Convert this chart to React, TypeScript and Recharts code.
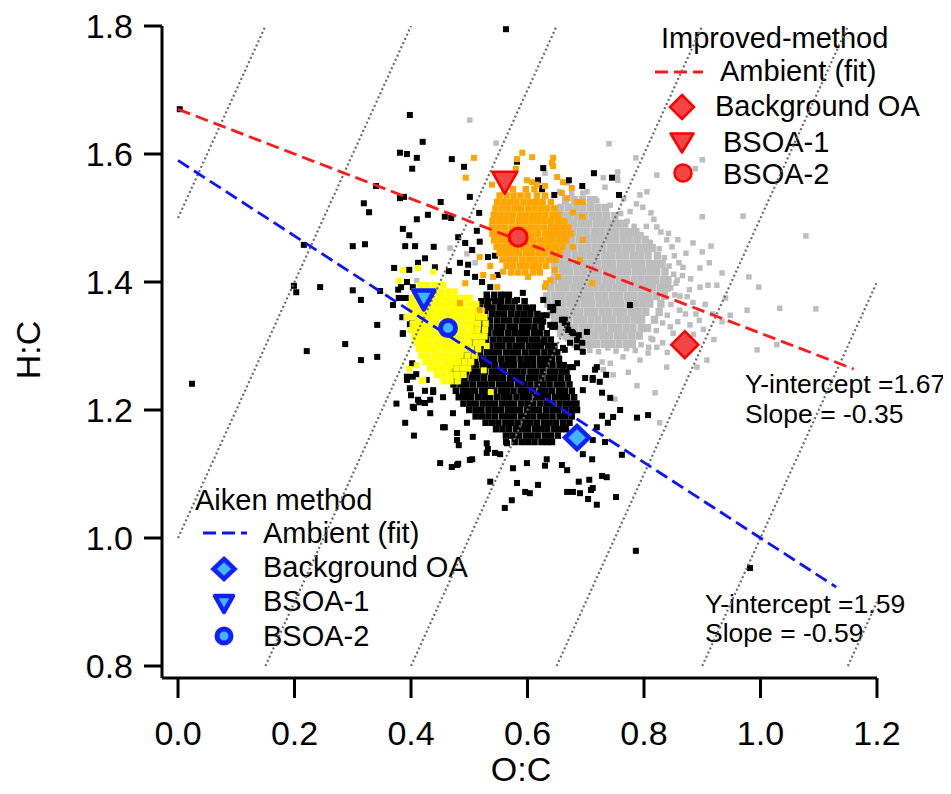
import React from 'react';
import { ScatterChart, Scatter, XAxis, YAxis, Customized } from 'recharts';

const FONT = '"Liberation Sans", Arial, Helvetica, sans-serif';

type Pt = [number, number];
type Row = { y: number; xs: number[] };

// Axes
const xTicks = [0, 0.2, 0.4, 0.6, 0.8, 1.0, 1.2];
const yTicks = [0.8, 1.0, 1.2, 1.4, 1.6, 1.8];
const xDomain: [number, number] = [-0.0275, 1.2];
const yDomain: [number, number] = [0.78125, 1.8];
const xBox: [number, number] = [0, 1.2];
const yBox: [number, number] = [0.8, 1.8];

// Carbon oxidation-state isolines: OSc = 2*O:C - H:C
const oxidationStates = [-1.5, -1.0, -0.5, 0, 0.5, 1.0, 1.5];

// Linear fits of the ambient data
const improvedFit = { intercept: 1.67, slope: -0.35, xEnd: 1.16 };
const aikenFit = { intercept: 1.59, slope: -0.59, xEnd: 1.13 };

// Factor end-members
const improvedBackground: Pt[] = [[0.87, 1.302]];
const improvedBsoa1: Pt[] = [[0.561, 1.555]];
const improvedBsoa2: Pt[] = [[0.584, 1.47]];
const aikenBackground: Pt[] = [[0.685, 1.157]];
const aikenBsoa1: Pt[] = [[0.422, 1.372]];
const aikenBsoa2: Pt[] = [[0.4635, 1.328]];

// Ambient points, Aiken method (black): dense core rows + scattered points
const blackCore: Row[] = [
  { y: 1.38, xs: [0.530, 0.543, 0.555, 0.568] },
  { y: 1.37, xs: [0.521, 0.532, 0.544, 0.555, 0.567, 0.578, 0.595] },
  { y: 1.36, xs: [0.518, 0.530, 0.540, 0.552, 0.563, 0.574, 0.586, 0.597, 0.609] },
  { y: 1.35, xs: [0.516, 0.527, 0.539, 0.550, 0.560, 0.572, 0.583, 0.594, 0.605, 0.617] },
  { y: 1.34, xs: [0.515, 0.526, 0.536, 0.548, 0.559, 0.569, 0.581, 0.592, 0.602, 0.614, 0.623] },
  { y: 1.33, xs: [0.513, 0.525, 0.535, 0.547, 0.557, 0.569, 0.579, 0.591, 0.601, 0.612, 0.624] },
  { y: 1.32, xs: [0.511, 0.523, 0.533, 0.545, 0.555, 0.567, 0.578, 0.589, 0.599, 0.611, 0.621, 0.633] },
  { y: 1.31, xs: [0.507, 0.519, 0.529, 0.541, 0.552, 0.563, 0.573, 0.585, 0.596, 0.607, 0.617, 0.629, 0.640] },
  { y: 1.30, xs: [0.502, 0.514, 0.524, 0.536, 0.547, 0.557, 0.569, 0.580, 0.590, 0.602, 0.613, 0.623, 0.635, 0.646] },
  { y: 1.29, xs: [0.496, 0.508, 0.518, 0.530, 0.541, 0.551, 0.563, 0.574, 0.584, 0.596, 0.607, 0.617, 0.629, 0.640, 0.651] },
  { y: 1.28, xs: [0.488, 0.500, 0.510, 0.522, 0.533, 0.543, 0.555, 0.566, 0.576, 0.588, 0.599, 0.609, 0.621, 0.632, 0.642, 0.654] },
  { y: 1.27, xs: [0.478, 0.489, 0.500, 0.511, 0.523, 0.533, 0.544, 0.556, 0.566, 0.577, 0.589, 0.599, 0.610, 0.622, 0.632, 0.643, 0.655, 0.662] },
  { y: 1.26, xs: [0.472, 0.483, 0.494, 0.506, 0.516, 0.527, 0.539, 0.549, 0.560, 0.572, 0.582, 0.593, 0.605, 0.615, 0.626, 0.638, 0.648, 0.659, 0.667] },
  { y: 1.25, xs: [0.470, 0.481, 0.492, 0.504, 0.514, 0.525, 0.537, 0.547, 0.558, 0.570, 0.580, 0.591, 0.603, 0.613, 0.624, 0.636, 0.646, 0.657, 0.669] },
  { y: 1.24, xs: [0.473, 0.485, 0.495, 0.506, 0.518, 0.528, 0.539, 0.551, 0.561, 0.572, 0.584, 0.594, 0.605, 0.617, 0.627, 0.638, 0.650, 0.660, 0.672] },
  { y: 1.23, xs: [0.477, 0.489, 0.499, 0.510, 0.522, 0.532, 0.543, 0.555, 0.565, 0.576, 0.588, 0.598, 0.609, 0.621, 0.631, 0.642, 0.654, 0.664, 0.676] },
  { y: 1.22, xs: [0.482, 0.493, 0.503, 0.515, 0.526, 0.536, 0.548, 0.559, 0.569, 0.581, 0.592, 0.602, 0.614, 0.625, 0.635, 0.647, 0.658, 0.668, 0.680] },
  { y: 1.21, xs: [0.490, 0.501, 0.511, 0.523, 0.534, 0.544, 0.556, 0.567, 0.577, 0.589, 0.600, 0.610, 0.622, 0.633, 0.643, 0.655, 0.666, 0.676, 0.684] },
  { y: 1.20, xs: [0.500, 0.511, 0.521, 0.533, 0.544, 0.554, 0.566, 0.577, 0.587, 0.599, 0.610, 0.620, 0.632, 0.643, 0.653, 0.665, 0.676, 0.685] },
  { y: 1.19, xs: [0.511, 0.522, 0.533, 0.544, 0.556, 0.566, 0.577, 0.589, 0.599, 0.610, 0.622, 0.632, 0.643, 0.655, 0.665, 0.676] },
  { y: 1.18, xs: [0.528, 0.539, 0.550, 0.562, 0.572, 0.583, 0.595, 0.605, 0.616, 0.628, 0.638, 0.649, 0.661, 0.672] },
  { y: 1.17, xs: [0.546, 0.557, 0.568, 0.580, 0.590, 0.601, 0.613, 0.623, 0.634, 0.646, 0.656, 0.666] },
  { y: 1.16, xs: [0.563, 0.574, 0.585, 0.597, 0.607, 0.618, 0.630, 0.640, 0.652] },
  { y: 1.15, xs: [0.578, 0.590, 0.601, 0.612, 0.624, 0.634, 0.642] },
];

const blackScatter: Pt[] = [
  [0.003, 1.670], [0.398, 1.661], [0.420, 1.619], [0.381, 1.602], [0.393, 1.600], [0.410, 1.594], [0.402, 1.577],
  [0.340, 1.550], [0.381, 1.531], [0.388, 1.533], [0.319, 1.523], [0.328, 1.509], [0.410, 1.498], [0.429, 1.505],
  [0.386, 1.483], [0.397, 1.473], [0.390, 1.456], [0.407, 1.456], [0.300, 1.456], [0.321, 1.459], [0.216, 1.458],
  [0.424, 1.437], [0.412, 1.430], [0.371, 1.422], [0.397, 1.419], [0.393, 1.400], [0.199, 1.394], [0.203, 1.384],
  [0.244, 1.392], [0.300, 1.387], [0.314, 1.372], [0.347, 1.386], [0.383, 1.392], [0.379, 1.375], [0.391, 1.375],
  [0.369, 1.364], [0.342, 1.333], [0.386, 1.319], [0.398, 1.334], [0.287, 1.303], [0.221, 1.292], [0.314, 1.278],
  [0.342, 1.283], [0.024, 1.241], [0.393, 1.252], [0.409, 1.256], [0.398, 1.234], [0.400, 1.223], [0.414, 1.212],
  [0.405, 1.203], [0.424, 1.230],
  [0.563, 1.795], [0.470, 1.592], [0.491, 1.580], [0.714, 1.570], [0.671, 1.559], [0.625, 1.545],
  [0.451, 1.525], [0.501, 1.533], [0.517, 1.508], [0.458, 1.502], [0.469, 1.500], [0.513, 1.480], [0.481, 1.470],
  [0.493, 1.461], [0.518, 1.463], [0.439, 1.455], [0.505, 1.450], [0.484, 1.430], [0.498, 1.427], [0.532, 1.439],
  [0.544, 1.441], [0.441, 1.423], [0.465, 1.417], [0.496, 1.414], [0.510, 1.408], [0.549, 1.411], [0.522, 1.400],
  [0.536, 1.392], [0.560, 1.380], [0.542, 1.375], [0.532, 1.367], [0.553, 1.361], [0.582, 1.372], [0.592, 1.383],
  [0.603, 1.359], [0.627, 1.372], [0.644, 1.361], [0.659, 1.341], [0.670, 1.325], [0.688, 1.317], [0.627, 1.338],
  [0.642, 1.330], [0.694, 1.550], [0.646, 1.536], [0.745, 1.563], [0.757, 1.536], [0.618, 1.559], [0.627, 1.578],
  [0.582, 1.588], [0.685, 1.273], [0.712, 1.247], [0.695, 1.231], [0.673, 1.267],
  [0.458, 1.173], [0.479, 1.153], [0.482, 1.145], [0.450, 1.117], [0.470, 1.111], [0.481, 1.116], [0.505, 1.123],
  [0.532, 1.139], [0.536, 1.088], [0.553, 1.131], [0.582, 1.086], [0.575, 1.109], [0.599, 1.117], [0.618, 1.083],
  [0.596, 1.072], [0.604, 1.070], [0.573, 1.059], [0.561, 1.047], [0.630, 1.113], [0.633, 1.123], [0.659, 1.114],
  [0.668, 1.106], [0.668, 1.072], [0.678, 1.072], [0.690, 1.070], [0.704, 1.061], [0.709, 1.075], [0.712, 1.078],
  [0.688, 1.088], [0.706, 1.091], [0.728, 1.097], [0.736, 1.095], [0.719, 1.052], [0.752, 1.064], [0.711, 1.123],
  [0.695, 1.131], [0.733, 1.150], [0.762, 1.130], [0.712, 1.153], [0.719, 1.173], [0.738, 1.180], [0.747, 1.189],
  [0.728, 1.191], [0.759, 1.200], [0.788, 1.188], [0.807, 1.192], [0.742, 1.219], [0.728, 1.227], [0.724, 1.244],
  [0.712, 1.250], [0.716, 1.263], [0.735, 1.255], [0.699, 1.250], [0.695, 1.291], [0.685, 1.309], [0.719, 1.267],
  [0.678, 1.267], [0.676, 1.322], [0.668, 1.333], [0.685, 1.298], [0.661, 1.297], [0.664, 1.341], [0.639, 1.333],
  [0.647, 1.330], [0.644, 1.356], [0.633, 1.348], [0.609, 1.359], [0.613, 1.322], [0.627, 1.306], [0.616, 1.320],
  [0.427, 1.247], [0.438, 1.231], [0.433, 1.216], [0.455, 1.220], [0.472, 1.195], [0.496, 1.180], [0.506, 1.158],
  [0.530, 1.148], [0.544, 1.133], [0.563, 1.150],
  [0.386, 1.320], [0.402, 1.273], [0.403, 1.252], [0.393, 1.247], [0.412, 1.216], [0.403, 1.205], [0.424, 1.211],
  [0.433, 1.195], [0.438, 1.228], [0.455, 1.173], [0.479, 1.164], [0.479, 1.114], [0.501, 1.122], [0.530, 1.133],
  [0.565, 1.148], [0.385, 1.345], [0.402, 1.336], [0.378, 1.388], [0.403, 1.392], [0.386, 1.375],
  [0.625, 1.547], [0.652, 1.367], [0.639, 1.361], [0.627, 1.348], [0.647, 1.333], [0.664, 1.336], [0.678, 1.320],
  [0.694, 1.305], [0.673, 1.305], [0.664, 1.294], [0.776, 1.364], [0.702, 1.322],
  [0.786, 0.980], [0.982, 0.953], [0.390, 1.180], [0.405, 1.160], [0.375, 1.210],
];

// Ambient points, improved method (grey)
const greyCore: Row[] = [
  { y: 1.528, xs: [0.665, 0.680, 0.694, 0.708] },
  { y: 1.516, xs: [0.657, 0.670, 0.683, 0.695, 0.708, 0.721, 0.734] },
  { y: 1.503, xs: [0.648, 0.661, 0.673, 0.686, 0.698, 0.711, 0.723, 0.736, 0.750] },
  { y: 1.491, xs: [0.643, 0.655, 0.668, 0.680, 0.693, 0.705, 0.718, 0.730, 0.743, 0.755, 0.767] },
  { y: 1.478, xs: [0.640, 0.652, 0.665, 0.677, 0.690, 0.702, 0.715, 0.727, 0.740, 0.752, 0.765, 0.777, 0.786] },
  { y: 1.466, xs: [0.639, 0.651, 0.664, 0.676, 0.689, 0.701, 0.714, 0.726, 0.739, 0.751, 0.764, 0.776, 0.789, 0.802] },
  { y: 1.453, xs: [0.642, 0.654, 0.667, 0.679, 0.692, 0.704, 0.717, 0.729, 0.742, 0.754, 0.767, 0.779, 0.792, 0.804, 0.814] },
  { y: 1.441, xs: [0.644, 0.657, 0.669, 0.682, 0.694, 0.707, 0.719, 0.732, 0.744, 0.757, 0.769, 0.782, 0.794, 0.807, 0.823] },
  { y: 1.428, xs: [0.646, 0.659, 0.671, 0.684, 0.696, 0.709, 0.721, 0.734, 0.746, 0.759, 0.771, 0.784, 0.796, 0.809, 0.821, 0.831] },
  { y: 1.416, xs: [0.647, 0.660, 0.672, 0.685, 0.697, 0.710, 0.722, 0.735, 0.747, 0.760, 0.772, 0.785, 0.797, 0.810, 0.822, 0.836] },
  { y: 1.403, xs: [0.645, 0.658, 0.670, 0.683, 0.695, 0.708, 0.720, 0.733, 0.745, 0.758, 0.770, 0.783, 0.795, 0.808, 0.820, 0.833, 0.841] },
  { y: 1.391, xs: [0.640, 0.653, 0.665, 0.678, 0.690, 0.703, 0.715, 0.728, 0.740, 0.753, 0.765, 0.778, 0.790, 0.803, 0.815, 0.828, 0.840] },
  { y: 1.378, xs: [0.633, 0.646, 0.658, 0.671, 0.683, 0.696, 0.708, 0.721, 0.733, 0.746, 0.758, 0.771, 0.783, 0.796, 0.808, 0.821, 0.835] },
  { y: 1.366, xs: [0.635, 0.648, 0.660, 0.673, 0.685, 0.698, 0.710, 0.723, 0.735, 0.748, 0.760, 0.773, 0.785, 0.798, 0.810, 0.829] },
  { y: 1.353, xs: [0.640, 0.653, 0.665, 0.678, 0.690, 0.703, 0.715, 0.728, 0.740, 0.753, 0.765, 0.778, 0.790, 0.803, 0.826] },
  { y: 1.341, xs: [0.646, 0.659, 0.671, 0.684, 0.696, 0.709, 0.721, 0.734, 0.746, 0.759, 0.771, 0.784, 0.796, 0.818] },
  { y: 1.328, xs: [0.656, 0.669, 0.681, 0.694, 0.706, 0.719, 0.731, 0.744, 0.756, 0.769, 0.781, 0.795, 0.806] },
  { y: 1.316, xs: [0.666, 0.679, 0.691, 0.704, 0.716, 0.729, 0.741, 0.754, 0.766, 0.779, 0.792] },
  { y: 1.303, xs: [0.682, 0.694, 0.707, 0.719, 0.732, 0.744, 0.757, 0.770, 0.780] },
];

const greyScatter: Pt[] = [
  [0.740, 1.616], [0.755, 1.572], [0.822, 1.567], [0.805, 1.541], [0.900, 1.591], [0.900, 1.502], [0.970, 1.503],
  [1.078, 1.472], [0.915, 1.456], [0.934, 1.414], [0.980, 1.408], [0.997, 1.392], [1.033, 1.359], [1.095, 1.358],
  [0.977, 1.356], [0.948, 1.348], [0.934, 1.338], [0.994, 1.294], [1.028, 1.302], [0.908, 1.278], [0.891, 1.267],
  [0.839, 1.267], [0.807, 1.289], [0.793, 1.278], [0.764, 1.283], [0.742, 1.273], [0.730, 1.263], [0.896, 1.392],
  [0.874, 1.377], [0.857, 1.403], [0.867, 1.423], [0.896, 1.422], [0.884, 1.461], [0.858, 1.466], [0.839, 1.466],
  [0.822, 1.486], [0.817, 1.498], [0.798, 1.517], [0.793, 1.536], [0.755, 1.559], [0.719, 1.527], [0.733, 1.548],
  [0.786, 1.594], [0.888, 1.577], [0.501, 1.653], [0.546, 1.617], [0.730, 1.563], [0.754, 1.563], [0.630, 1.570],
  [0.668, 1.555], [0.695, 1.539], [0.728, 1.275], [0.747, 1.255], [0.773, 1.259], [0.788, 1.238], [0.750, 1.217],
  [0.819, 1.227], [0.827, 1.180], [0.410, 1.402], [0.467, 1.453], [0.496, 1.444], [0.510, 1.430],
  [0.852, 1.441], [0.846, 1.391], [0.861, 1.356], [0.879, 1.333], [0.850, 1.320], [0.832, 1.305], [0.870, 1.296],
  [0.815, 1.310], [0.880, 1.405], [0.905, 1.365], [0.920, 1.310],
  [0.655, 1.541], [0.676, 1.538], [0.702, 1.541], [0.716, 1.530], [0.742, 1.520], [0.760, 1.507], [0.771, 1.495],
  [0.783, 1.487], [0.795, 1.474], [0.811, 1.462], [0.826, 1.452], [0.835, 1.438], [0.843, 1.425], [0.851, 1.412],
  [0.855, 1.398], [0.853, 1.380], [0.846, 1.365], [0.840, 1.348], [0.832, 1.336], [0.821, 1.324], [0.812, 1.312],
  [0.795, 1.302], [0.785, 1.293], [0.770, 1.296], [0.752, 1.292], [0.738, 1.297], [0.722, 1.291], [0.707, 1.293],
  [0.693, 1.296], [0.668, 1.311], [0.655, 1.318], [0.645, 1.329], [0.900, 1.447], [0.912, 1.430], [0.925, 1.395],
  [0.889, 1.350], [0.940, 1.375],
  [0.848, 1.455], [0.860, 1.430], [0.872, 1.445], [0.866, 1.410], [0.878, 1.388], [0.862, 1.378], [0.884, 1.368],
  [0.871, 1.350], [0.895, 1.340], [0.858, 1.338], [0.845, 1.330], [0.885, 1.318], [0.902, 1.326], [0.842, 1.476],
  [0.829, 1.478], [0.812, 1.508], [0.804, 1.487], [0.776, 1.510], [0.765, 1.530], [0.787, 1.522], [0.910, 1.395],
  [0.918, 1.350], [0.856, 1.305], [0.840, 1.290], [0.822, 1.298], [0.808, 1.298],
];

// BSOA-1 periods (yellow: Aiken, orange: improved)
const yellowCore: Row[] = [
  { y: 1.395, xs: [0.416, 0.428, 0.441, 0.455] },
  { y: 1.385, xs: [0.407, 0.419, 0.430, 0.441, 0.452, 0.464, 0.475] },
  { y: 1.375, xs: [0.402, 0.413, 0.424, 0.436, 0.447, 0.458, 0.469, 0.480, 0.492, 0.501] },
  { y: 1.365, xs: [0.399, 0.410, 0.421, 0.432, 0.444, 0.455, 0.466, 0.477, 0.488, 0.500, 0.512] },
  { y: 1.355, xs: [0.401, 0.412, 0.423, 0.435, 0.446, 0.457, 0.468, 0.479, 0.491, 0.502, 0.513, 0.521] },
  { y: 1.345, xs: [0.405, 0.416, 0.427, 0.438, 0.449, 0.461, 0.472, 0.483, 0.494, 0.505, 0.516, 0.526] },
  { y: 1.335, xs: [0.403, 0.414, 0.425, 0.437, 0.448, 0.459, 0.470, 0.481, 0.493, 0.504, 0.515, 0.528] },
  { y: 1.325, xs: [0.402, 0.413, 0.424, 0.435, 0.447, 0.458, 0.469, 0.480, 0.491, 0.503, 0.514, 0.527] },
  { y: 1.315, xs: [0.406, 0.417, 0.428, 0.439, 0.451, 0.462, 0.473, 0.484, 0.495, 0.506, 0.517, 0.526] },
  { y: 1.305, xs: [0.410, 0.421, 0.432, 0.444, 0.455, 0.466, 0.477, 0.488, 0.499, 0.511, 0.522] },
  { y: 1.295, xs: [0.414, 0.425, 0.436, 0.447, 0.459, 0.470, 0.481, 0.492, 0.503, 0.515] },
  { y: 1.285, xs: [0.418, 0.429, 0.441, 0.452, 0.463, 0.474, 0.485, 0.497, 0.509] },
  { y: 1.275, xs: [0.425, 0.436, 0.447, 0.459, 0.470, 0.481, 0.492, 0.503] },
  { y: 1.265, xs: [0.433, 0.444, 0.455, 0.466, 0.478, 0.489, 0.498] },
  { y: 1.255, xs: [0.445, 0.456, 0.468, 0.479, 0.490] },
  { y: 1.245, xs: [0.456, 0.468, 0.480] },
];

const yellowScatter: Pt[] = [
  [0.386, 1.419], [0.379, 1.402], [0.400, 1.325], [0.397, 1.264], [0.419, 1.245], [0.537, 1.228], [0.412, 1.422],
  [0.438, 1.416], [0.421, 1.247], [0.410, 1.270], [0.415, 1.314], [0.392, 1.345], [0.530, 1.300], [0.525, 1.262],
];

const orangeCore: Row[] = [
  { y: 1.545, xs: [0.560, 0.575, 0.597, 0.612] },
  { y: 1.535, xs: [0.552, 0.564, 0.576, 0.588, 0.600, 0.616, 0.630] },
  { y: 1.525, xs: [0.548, 0.559, 0.570, 0.581, 0.593, 0.604, 0.615, 0.626, 0.640] },
  { y: 1.515, xs: [0.545, 0.556, 0.567, 0.578, 0.589, 0.601, 0.612, 0.623, 0.634, 0.646] },
  { y: 1.505, xs: [0.542, 0.553, 0.564, 0.575, 0.587, 0.598, 0.609, 0.620, 0.631, 0.643, 0.653] },
  { y: 1.495, xs: [0.540, 0.551, 0.562, 0.573, 0.585, 0.596, 0.607, 0.618, 0.629, 0.640, 0.652, 0.663] },
  { y: 1.485, xs: [0.539, 0.550, 0.561, 0.573, 0.584, 0.595, 0.606, 0.617, 0.628, 0.640, 0.651, 0.662, 0.670] },
  { y: 1.475, xs: [0.540, 0.551, 0.562, 0.574, 0.585, 0.596, 0.607, 0.618, 0.630, 0.641, 0.652, 0.663, 0.674] },
  { y: 1.465, xs: [0.543, 0.554, 0.565, 0.576, 0.588, 0.599, 0.610, 0.621, 0.632, 0.643, 0.655, 0.666] },
  { y: 1.455, xs: [0.547, 0.558, 0.569, 0.580, 0.592, 0.603, 0.614, 0.625, 0.636, 0.648, 0.660] },
  { y: 1.445, xs: [0.552, 0.563, 0.574, 0.585, 0.597, 0.608, 0.619, 0.630, 0.642, 0.655] },
  { y: 1.435, xs: [0.557, 0.568, 0.579, 0.591, 0.602, 0.613, 0.624, 0.636, 0.648] },
  { y: 1.425, xs: [0.564, 0.575, 0.587, 0.598, 0.609, 0.620, 0.632] },
  { y: 1.415, xs: [0.572, 0.584, 0.596, 0.609, 0.621] },
];

const orangeScatter: Pt[] = [
  [0.508, 1.594], [0.582, 1.592], [0.591, 1.602], [0.608, 1.595], [0.644, 1.594], [0.642, 1.586], [0.644, 1.581],
  [0.580, 1.577], [0.494, 1.563], [0.539, 1.552], [0.599, 1.559], [0.608, 1.556], [0.616, 1.552], [0.651, 1.564],
  [0.661, 1.556], [0.676, 1.547], [0.630, 1.550], [0.659, 1.539], [0.668, 1.531], [0.685, 1.525], [0.695, 1.525],
  [0.678, 1.509], [0.694, 1.502], [0.695, 1.466], [0.678, 1.455], [0.690, 1.434], [0.647, 1.419], [0.652, 1.408],
  [0.639, 1.403], [0.711, 1.398], [0.630, 1.392], [0.518, 1.439], [0.536, 1.425], [0.524, 1.411], [0.541, 1.408],
  [0.558, 1.416], [0.548, 1.392], [0.601, 1.408], [0.632, 1.398], [0.616, 1.422], [0.484, 1.367], [0.518, 1.356],
  [0.493, 1.398],
];

// ---- helpers ----
type XY = { x: number; y: number };
const fromPairs = (pts: Pt[]): XY[] => pts.map(([x, y]) => ({ x, y }));
const fromRows = (rows: Row[]): XY[] => rows.flatMap((r) => r.xs.map((x) => ({ x, y: r.y })));

const isoline = (os: number): XY[] => {
  const x0 = Math.max(xBox[0], (yBox[0] + os) / 2);
  const x1 = Math.min(xBox[1], (yBox[1] + os) / 2);
  return [
    { x: x0, y: 2 * x0 - os },
    { x: x1, y: 2 * x1 - os },
  ];
};

const fitLine = (f: { intercept: number; slope: number; xEnd: number }): XY[] => [
  { x: 0, y: f.intercept },
  { x: f.xEnd, y: f.intercept + f.slope * f.xEnd },
];

const squareShape = (fill: string, w: number, h: number = w) => (p: any) =>
  p.cx == null ? <g /> : <rect x={p.cx - w / 2} y={p.cy - h / 2} width={w} height={h} fill={fill} />;

const noShape = () => <g />;

type MStyle = { fill: string; stroke: string; sw: number; w: number; h?: number };
type Kind = 'diamond' | 'triangle' | 'circle';

function drawMarker(kind: Kind, cx: number, cy: number, st: MStyle) {
  const hw = st.w / 2;
  const hh = (st.h ?? st.w) / 2;
  const common = { fill: st.fill, stroke: st.stroke, strokeWidth: st.sw };
  if (kind === 'diamond') {
    return <polygon points={`${cx},${cy - hh} ${cx + hw},${cy} ${cx},${cy + hh} ${cx - hw},${cy}`} {...common} />;
  }
  if (kind === 'triangle') {
    return <polygon points={`${cx - hw},${cy - hh} ${cx + hw},${cy - hh} ${cx},${cy + hh}`} {...common} strokeLinejoin="round" />;
  }
  return <circle cx={cx} cy={cy} r={hw} {...common} />;
}

const markerShape = (kind: Kind, st: MStyle) => (p: any) =>
  p.cx == null ? <g /> : drawMarker(kind, p.cx, p.cy, st);

const RED = { fill: '#f24646', stroke: '#ff0000' };
const BLUE = { fill: '#40b6f8', stroke: '#1020ff' };

const chartStyles = {
  redDiamond: { ...RED, sw: 2.5, w: 27, h: 27 },
  redTriangle: { ...RED, sw: 2.5, w: 25, h: 22 },
  redCircle: { ...RED, sw: 3, w: 18 },
  blueDiamond: { ...BLUE, sw: 4.5, w: 24, h: 23 },
  blueTriangle: { ...BLUE, sw: 4.5, w: 21, h: 19 },
  blueCircle: { ...BLUE, sw: 5, w: 15 },
};

const legendStyles = {
  redDiamond: { ...RED, sw: 2.5, w: 24, h: 24 },
  redTriangle: { ...RED, sw: 2.5, w: 23, h: 19 },
  redCircle: { ...RED, sw: 2.5, w: 17 },
  blueDiamond: { ...BLUE, sw: 4.5, w: 21, h: 20 },
  blueTriangle: { ...BLUE, sw: 4.5, w: 18, h: 16 },
  blueCircle: { ...BLUE, sw: 5, w: 14 },
};

const RED_LINE = '#ff1a1a';
const BLUE_LINE = '#0a14ff';
const FIT_DASH = '13 6';
const FIT_WIDTH = 2.8;

function Annotations() {
  const legendFont = 29;
  const noteFont = 26.5;
  return (
    <g fontFamily={FONT} fill="#000">
      {/* axis titles */}
      <text x={20} y={342} fontSize={34} textAnchor="middle" dominantBaseline="central" transform="rotate(-90 20 342)">
        H:C
      </text>
      <text x={513} y={773} fontSize={34} textAnchor="middle">
        O:C
      </text>

      {/* improved-method legend */}
      <text x={653} y={40} fontSize={legendFont}>Improved-method</text>
      <line x1={647} y1={64} x2={695} y2={64} stroke={RED_LINE} strokeWidth={FIT_WIDTH} strokeDasharray={FIT_DASH} />
      <text x={712} y={73} fontSize={legendFont}>Ambient (fit)</text>
      {drawMarker('diamond', 674, 99, legendStyles.redDiamond)}
      <text x={707} y={108} fontSize={legendFont}>Background OA</text>
      {drawMarker('triangle', 674, 135, legendStyles.redTriangle)}
      <text x={715} y={144} fontSize={legendFont}>BSOA-1</text>
      {drawMarker('circle', 675, 165, legendStyles.redCircle)}
      <text x={715} y={176} fontSize={legendFont}>BSOA-2</text>

      {/* Aiken legend */}
      <text x={187} y={502} fontSize={legendFont}>Aiken method</text>
      <line x1={195} y1={525} x2={239} y2={525} stroke={BLUE_LINE} strokeWidth={FIT_WIDTH} strokeDasharray={FIT_DASH} />
      <text x={255} y={535} fontSize={legendFont}>Ambient (fit)</text>
      {drawMarker('diamond', 216, 561, legendStyles.blueDiamond)}
      <text x={255} y={569} fontSize={legendFont}>Background OA</text>
      {drawMarker('triangle', 216, 596, legendStyles.blueTriangle)}
      <text x={255} y={603} fontSize={legendFont}>BSOA-1</text>
      {drawMarker('circle', 216, 628, legendStyles.blueCircle)}
      <text x={255} y={638} fontSize={legendFont}>BSOA-2</text>

      {/* fit parameters */}
      <text x={737} y={385} fontSize={noteFont}>{`Y-intercept =${improvedFit.intercept.toFixed(2)}`}</text>
      <text x={737} y={415} fontSize={noteFont}>{`Slope = ${improvedFit.slope.toFixed(2)}`}</text>
      <text x={697} y={605} fontSize={noteFont}>{`Y-intercept =${aikenFit.intercept.toFixed(2)}`}</text>
      <text x={697} y={634} fontSize={noteFont}>{`Slope = ${aikenFit.slope.toFixed(2)}`}</text>
    </g>
  );
}

const tickStyle = { fontSize: 34, fill: '#000', fontFamily: FONT };
const axisStroke = { stroke: '#000', strokeWidth: 3 };

export default function App() {
  return (
    <div style={{ width: 935, height: 778, background: '#fff' }}>
      <style>{'.recharts-surface{overflow:visible}'}</style>
      <ScatterChart width={935} height={778} margin={{ top: 18, right: 66, bottom: 0, left: 0 }}>
        <XAxis
          type="number"
          dataKey="x"
          domain={xDomain}
          allowDataOverflow
          ticks={xTicks}
          interval={0}
          tickFormatter={(v: number) => v.toFixed(1)}
          height={108}
          tickSize={20}
          tickMargin={23}
          tick={tickStyle}
          axisLine={axisStroke}
          tickLine={axisStroke}
        />
        <YAxis
          type="number"
          dataKey="y"
          domain={yDomain}
          allowDataOverflow
          ticks={yTicks}
          interval={0}
          tickFormatter={(v: number) => v.toFixed(1)}
          width={154}
          tickSize={18}
          tickMargin={11}
          tick={tickStyle}
          axisLine={axisStroke}
          tickLine={axisStroke}
        />

        <Scatter data={fromRows(greyCore)} shape={squareShape('#bdbdbd', 7.4, 8.1)} isAnimationActive={false} />
        <Scatter data={fromPairs(greyScatter)} shape={squareShape('#bdbdbd', 5.5)} isAnimationActive={false} />
        <Scatter data={fromRows(blackCore)} shape={squareShape('#000', 6.5)} isAnimationActive={false} />
        <Scatter data={fromPairs(blackScatter)} shape={squareShape('#000', 6)} isAnimationActive={false} />
        <Scatter data={fromRows(yellowCore)} shape={squareShape('#ffff00', 6.5)} isAnimationActive={false} />
        <Scatter data={fromPairs(yellowScatter)} shape={squareShape('#ffff00', 6)} isAnimationActive={false} />
        <Scatter data={fromRows(orangeCore)} shape={squareShape('#ffa500', 6.5)} isAnimationActive={false} />
        <Scatter data={fromPairs(orangeScatter)} shape={squareShape('#ffa500', 6)} isAnimationActive={false} />

        {oxidationStates.map((os) => (
          <Scatter
            key={`os${os}`}
            data={isoline(os)}
            line={{ stroke: '#6a6a6a', strokeWidth: 2.2, strokeDasharray: '2 2.6' }}
            shape={noShape}
            isAnimationActive={false}
          />
        ))}

        <Scatter
          data={fitLine(improvedFit)}
          line={{ stroke: RED_LINE, strokeWidth: FIT_WIDTH, strokeDasharray: FIT_DASH }}
          shape={noShape}
          isAnimationActive={false}
        />
        <Scatter
          data={fitLine(aikenFit)}
          line={{ stroke: BLUE_LINE, strokeWidth: FIT_WIDTH, strokeDasharray: FIT_DASH }}
          shape={noShape}
          isAnimationActive={false}
        />

        <Scatter data={fromPairs(improvedBackground)} shape={markerShape('diamond', chartStyles.redDiamond)} isAnimationActive={false} />
        <Scatter data={fromPairs(improvedBsoa1)} shape={markerShape('triangle', chartStyles.redTriangle)} isAnimationActive={false} />
        <Scatter data={fromPairs(improvedBsoa2)} shape={markerShape('circle', chartStyles.redCircle)} isAnimationActive={false} />
        <Scatter data={fromPairs(aikenBackground)} shape={markerShape('diamond', chartStyles.blueDiamond)} isAnimationActive={false} />
        <Scatter data={fromPairs(aikenBsoa1)} shape={markerShape('triangle', chartStyles.blueTriangle)} isAnimationActive={false} />
        <Scatter data={fromPairs(aikenBsoa2)} shape={markerShape('circle', chartStyles.blueCircle)} isAnimationActive={false} />

        <Customized component={Annotations} />
      </ScatterChart>
    </div>
  );
}
